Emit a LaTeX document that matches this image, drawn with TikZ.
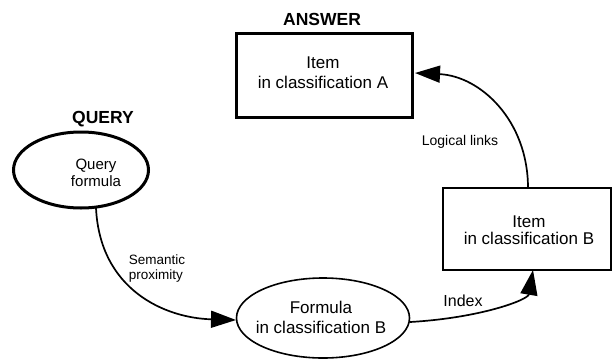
\documentclass[tikz,border=0pt]{standalone}
\usepackage{fontspec}
\setmainfont{Liberation Sans}
\usetikzlibrary{arrows.meta,shapes.geometric}

\tikzset{
  heading/.style={font=\fontsize{17.5}{20}\selectfont\bfseries, inner sep=0pt},
  boxtext/.style={align=center, inner sep=0pt, font=\fontsize{17}{20}\selectfont},
  linklabel/.style={align=left, inner sep=0pt, font=\fontsize{13.5}{15}\selectfont},
  thickbox/.style={draw, line width=3pt, rectangle, inner sep=0pt},
  thinbox/.style={draw, line width=1.6pt, rectangle, inner sep=0pt},
  thickoval/.style={draw, line width=3pt, ellipse, inner sep=0pt},
  thinoval/.style={draw, line width=1.6pt, ellipse, inner sep=0pt},
  link/.style={line width=1.7pt, -{Triangle[length=25pt,width=17pt]}},
}

\begin{document}
\begin{tikzpicture}[x=1pt, y=-1pt]
  \useasboundingbox (0,0) rectangle (613,359);

  % Answer: item in classification A
  \node[thickbox, minimum width=176pt, minimum height=84pt] (ans) at (324,75) {};
  \node[boxtext] (anstext) at (323,73) {Item\\in classification A};
  \node[heading] (anshead) at (322,19) {ANSWER};

  % Query formula
  \node[thickoval, minimum width=135pt, minimum height=76pt] (query) at (81,170) {};
  \node[boxtext, font=\fontsize{15}{16.5}\selectfont] (querytext) at (96,173) {Query\\formula};
  \node[heading] (queryhead) at (103,119) {QUERY};

  % Formula in classification B
  \node[thinoval, minimum width=173pt, minimum height=80pt] (formula) at (323,318) {};
  \node[boxtext] (formulatext) at (321,317) {Formula\\in classification B};

  % Item in classification B
  \node[thinbox, minimum width=168pt, minimum height=82pt] (itemb) at (527,229) {};
  \node[boxtext] (itembtext) at (529,230) {Item\\[-3pt]in classification B};

  % Anchor points of the connectors
  \coordinate (qout) at (96,208);
  \coordinate (fin) at (236,320);
  \coordinate (fout) at (410,322);
  \coordinate (bin) at (533,270);
  \coordinate (bout) at (528,188);
  \coordinate (ain) at (415,73);

  % Connectors
  \draw[link] (qout) .. controls (100,290) and (165,318) .. (fin);
  \draw[link] (fout) .. controls (480,318) and (528,300) .. (bin);
  \draw[link] (bout) .. controls (528,120) and (480,76) .. (ain);

  % Connector labels
  \node[linklabel] (semlabel) at (157,269) {Semantic\\proximity};
  \node[linklabel, font=\fontsize{16}{18}\selectfont] (idxlabel) at (463,301) {Index};
  \node[linklabel, font=\fontsize{14}{16}\selectfont] (loglabel) at (460,142) {Logical links};
\end{tikzpicture}
\end{document}
